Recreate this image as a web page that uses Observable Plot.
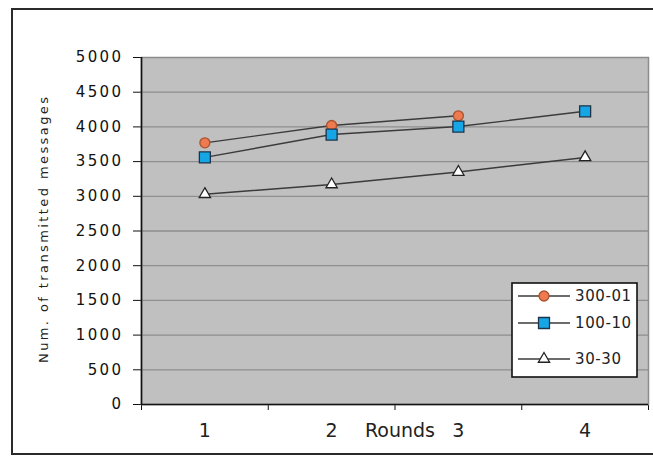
<!DOCTYPE html>
<html>
<head>
<meta charset="utf-8">
<script src="https://cdn.jsdelivr.net/npm/d3@7"></script>
<script src="https://cdn.jsdelivr.net/npm/@observablehq/plot@0.6"></script>
<style>
  body { margin: 0; background: #fff; }
  #chart svg { display: block; }
</style>
</head>
<body>
<div id="chart"></div>
<script>
// Rounds on the x axis and the y tick values
const rounds = [1, 2, 3, 4];
const yTicks = [0, 500, 1000, 1500, 2000, 2500, 3000, 3500, 4000, 4500, 5000];

// Series names and values (transmitted messages per round)
const seriesNames = ["300-01", "100-10", "30-30"];
const values300_01 = [3770, 4020, 4160];
const values100_10 = [3560, 3890, 4005, 4225];
const values30_30 = [3030, 3170, 3350, 3560];

const yTitle = "Num. of transmitted messages";
const xTitle = "Rounds";

const seriesValues = {"300-01": values300_01, "100-10": values100_10, "30-30": values30_30};

// Marker style of each series
const markerStyle = {
  "300-01": {symbol: "circle", r: 5, fill: "#ee7a50", stroke: "#a9522f"},
  "100-10": {symbol: "square", r: 6.2, fill: "#16a6e6", stroke: "#1d3348"},
  "30-30": {symbol: "triangle", r: 4.2, fill: "#ffffff", stroke: "#222222"}
};

const rows = seriesNames.flatMap(name =>
  seriesValues[name].map((v, i) => ({series: name, round: rounds[i], value: v}))
);

const W = 653, H = 457;

const chart = Plot.plot({
  width: W,
  height: H,
  marginLeft: 141,
  marginRight: 5,
  marginTop: 57,
  marginBottom: 53,
  style: {fontFamily: "DejaVu Sans, sans-serif", fontSize: "15px", color: "#111", background: "transparent"},
  x: {
    type: "linear",
    domain: [rounds[0] - 0.5, rounds[rounds.length - 1] + 0.5],
    ticks: [0.5, 1.5, 2.5, 3.5, 4.5],
    tickFormat: () => "",
    tickSize: 6,
    label: null
  },
  y: {
    domain: [0, 5000],
    ticks: yTicks,
    tickFormat: d => String(d),
    tickSize: 8,
    tickPadding: 10,
    label: null
  },
  marks: [
    Plot.frame({fill: "#c0c0c0", stroke: "#8c8c8c", strokeWidth: 1.5}),
    Plot.ruleY(yTicks.filter(v => v > 0 && v < 5000), {stroke: "#8e8e8e", strokeWidth: 1.3}),
    Plot.ruleY([0], {stroke: "#111", strokeWidth: 1.6}),
    Plot.ruleX([rounds[0] - 0.5], {stroke: "#111", strokeWidth: 1.6}),
    Plot.line(rows, {x: "round", y: "value", z: "series", stroke: "#3b3b3b", strokeWidth: 1.4}),
    ...seriesNames.map(name => Plot.dot(rows.filter(d => d.series === name), {
      x: "round",
      y: "value",
      symbol: markerStyle[name].symbol,
      r: markerStyle[name].r,
      fill: markerStyle[name].fill,
      stroke: markerStyle[name].stroke,
      strokeWidth: 1.3
    })),
    // Round labels centred under each category
    Plot.text(rounds, {x: d => d, frameAnchor: "bottom", dy: 32, text: d => String(d), fontSize: 19, fill: "#222"}),
    // Axis titles
    Plot.text([xTitle], {x: () => (rounds[1] + rounds[2]) / 2, frameAnchor: "bottom", dy: 32, dx: 5, text: d => d, fontSize: 19, fill: "#222"}),
    Plot.text([yTitle], {frameAnchor: "left", textAnchor: "middle", rotate: -90, dx: -98, dy: -1, text: d => d, fontSize: 13, fill: "#222"})
  ]
});

document.getElementById("chart").appendChild(chart);

const svg = d3.select(chart);

// Wide spacing of the y tick labels and the y title
svg.selectAll('[aria-label^="y-axis"] text').attr("letter-spacing", "2.4px");
svg.selectAll("text").filter(function () { return this.textContent === yTitle; })
  .attr("text-anchor", "middle")
  .attr("textLength", 266).attr("lengthAdjust", "spacing");

// Legend box inside the plot area
const legend = svg.append("g")
  .attr("font-family", "DejaVu Sans, sans-serif")
  .attr("font-size", 15)
  .attr("text-anchor", "start");
legend.append("rect")
  .attr("x", 512).attr("y", 283).attr("width", 125).attr("height", 94)
  .attr("fill", "#fff").attr("stroke", "#111").attr("stroke-width", 1.6);
const legendRowY = [296, 323, 359];
const symbolType = {circle: d3.symbolCircle, square: d3.symbolSquare, triangle: d3.symbolTriangle};
seriesNames.forEach((name, i) => {
  const st = markerStyle[name];
  const y = legendRowY[i];
  legend.append("line")
    .attr("x1", 518).attr("x2", 570).attr("y1", y).attr("y2", y)
    .attr("stroke", "#3b3b3b").attr("stroke-width", 1.4);
  legend.append("path")
    .attr("transform", `translate(544,${y})`)
    .attr("d", d3.symbol(symbolType[st.symbol], st.r * st.r * Math.PI)())
    .attr("fill", st.fill).attr("stroke", st.stroke).attr("stroke-width", 1.3);
  legend.append("text")
    .attr("x", 575).attr("y", y).attr("dy", "0.35em")
    .attr("text-anchor", "start")
    .attr("letter-spacing", "0.6px").attr("fill", "#222")
    .text(name);
});

// Outer chart border
svg.append("rect")
  .attr("x", 12).attr("y", 9).attr("width", 645).attr("height", 445)
  .attr("fill", "none").attr("stroke", "#2a2a2a").attr("stroke-width", 2);
</script>
</body>
</html>
